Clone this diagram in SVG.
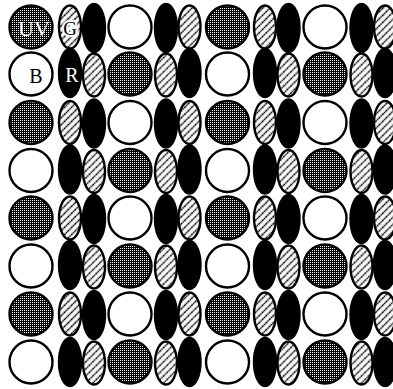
<svg xmlns="http://www.w3.org/2000/svg" width="393" height="389" viewBox="0 0 393 389">
<defs>
<pattern id="dots" x="0" y="0" width="2" height="2" patternUnits="userSpaceOnUse"><rect width="2" height="2" fill="#000"/><rect width="1" height="1" fill="#fff"/></pattern>
<pattern id="hatch" width="5" height="5" patternUnits="userSpaceOnUse" patternTransform="rotate(45)"><rect width="5" height="5" fill="#fff"/><line x1="1.5" y1="0" x2="1.5" y2="5" stroke="#000" stroke-width="1.5" stroke-dasharray="1.4 0.5"/></pattern>
<style>
.d{fill:url(#dots);stroke:#000;stroke-width:2.4}
.w{fill:#fff;stroke:#000;stroke-width:2.4}
.k{fill:#000;stroke:#000;stroke-width:2.4}
.h{fill:url(#hatch);stroke:#000;stroke-width:2.4}
text{font-family:"Liberation Serif","Times New Roman",serif;text-anchor:middle}
.lw{fill:#fff}
.lb{fill:#000}
.halo{stroke:#fff;stroke-width:4;paint-order:stroke;stroke-linejoin:round}
</style>
</defs>
<rect width="393" height="389" fill="#fff"/>
<g id="connectors"/>
<g id="row0">
<g id="r0-c0"><circle class="d" cx="31" cy="27" r="21.5"/><text class="lw" x="34" y="36" font-size="22">UV</text></g>
<g id="r0-e0a"><ellipse class="h" cx="70" cy="27" rx="11" ry="21.5"/><text class="lb halo" x="70" y="35" font-size="19">G</text></g>
<g id="r0-e0b"><ellipse class="k" cx="94" cy="28" rx="11" ry="24"/></g>
<g id="r0-c1"><circle class="w" cx="130" cy="27" r="21.5"/></g>
<g id="r0-e1a"><ellipse class="k" cx="166" cy="28" rx="11" ry="24"/></g>
<g id="r0-e1b"><ellipse class="h" cx="189.5" cy="27" rx="11" ry="21.5"/></g>
<g id="r0-c2"><circle class="d" cx="227.5" cy="27" r="21.5"/></g>
<g id="r0-e2a"><ellipse class="h" cx="265" cy="27" rx="11" ry="21.5"/></g>
<g id="r0-e2b"><ellipse class="k" cx="288.5" cy="28" rx="11" ry="24"/></g>
<g id="r0-c3"><circle class="w" cx="325" cy="27" r="21.5"/></g>
<g id="r0-e3a"><ellipse class="k" cx="361.5" cy="28" rx="11" ry="24"/></g>
<g id="r0-e3b"><ellipse class="h" cx="385" cy="27" rx="11" ry="21.5"/></g>
</g>
<g id="row1">
<g id="r1-c0"><circle class="w" cx="31" cy="74" r="21.5"/><text class="lb" x="36" y="83" font-size="20">B</text></g>
<g id="r1-e0a"><ellipse class="k" cx="70" cy="73" rx="11" ry="24"/><text class="lw" x="72" y="82" font-size="20">R</text></g>
<g id="r1-e0b"><ellipse class="h" cx="94" cy="75" rx="11" ry="21.5"/></g>
<g id="r1-c1"><circle class="d" cx="130" cy="74" r="21.5"/></g>
<g id="r1-e1a"><ellipse class="h" cx="166" cy="75" rx="11" ry="21.5"/></g>
<g id="r1-e1b"><ellipse class="k" cx="189.5" cy="73" rx="11" ry="24"/></g>
<g id="r1-c2"><circle class="w" cx="227.5" cy="74" r="21.5"/></g>
<g id="r1-e2a"><ellipse class="k" cx="265" cy="73" rx="11" ry="24"/></g>
<g id="r1-e2b"><ellipse class="h" cx="288.5" cy="75" rx="11" ry="21.5"/></g>
<g id="r1-c3"><circle class="d" cx="325" cy="74" r="21.5"/></g>
<g id="r1-e3a"><ellipse class="h" cx="361.5" cy="75" rx="11" ry="21.5"/></g>
<g id="r1-e3b"><ellipse class="k" cx="385" cy="73" rx="11" ry="24"/></g>
</g>
<g id="row2">
<g id="r2-c0"><circle class="d" cx="31" cy="122.5" r="21.5"/></g>
<g id="r2-e0a"><ellipse class="h" cx="70" cy="122.5" rx="11" ry="21.5"/></g>
<g id="r2-e0b"><ellipse class="k" cx="94" cy="123.5" rx="11" ry="24"/></g>
<g id="r2-c1"><circle class="w" cx="130" cy="122.5" r="21.5"/></g>
<g id="r2-e1a"><ellipse class="k" cx="166" cy="123.5" rx="11" ry="24"/></g>
<g id="r2-e1b"><ellipse class="h" cx="189.5" cy="122.5" rx="11" ry="21.5"/></g>
<g id="r2-c2"><circle class="d" cx="227.5" cy="122.5" r="21.5"/></g>
<g id="r2-e2a"><ellipse class="h" cx="265" cy="122.5" rx="11" ry="21.5"/></g>
<g id="r2-e2b"><ellipse class="k" cx="288.5" cy="123.5" rx="11" ry="24"/></g>
<g id="r2-c3"><circle class="w" cx="325" cy="122.5" r="21.5"/></g>
<g id="r2-e3a"><ellipse class="k" cx="361.5" cy="123.5" rx="11" ry="24"/></g>
<g id="r2-e3b"><ellipse class="h" cx="385" cy="122.5" rx="11" ry="21.5"/></g>
</g>
<g id="row3">
<g id="r3-c0"><circle class="w" cx="31" cy="170.5" r="21.5"/></g>
<g id="r3-e0a"><ellipse class="k" cx="70" cy="169.5" rx="11" ry="24"/></g>
<g id="r3-e0b"><ellipse class="h" cx="94" cy="171.5" rx="11" ry="21.5"/></g>
<g id="r3-c1"><circle class="d" cx="130" cy="170.5" r="21.5"/></g>
<g id="r3-e1a"><ellipse class="h" cx="166" cy="171.5" rx="11" ry="21.5"/></g>
<g id="r3-e1b"><ellipse class="k" cx="189.5" cy="169.5" rx="11" ry="24"/></g>
<g id="r3-c2"><circle class="w" cx="227.5" cy="170.5" r="21.5"/></g>
<g id="r3-e2a"><ellipse class="k" cx="265" cy="169.5" rx="11" ry="24"/></g>
<g id="r3-e2b"><ellipse class="h" cx="288.5" cy="171.5" rx="11" ry="21.5"/></g>
<g id="r3-c3"><circle class="d" cx="325" cy="170.5" r="21.5"/></g>
<g id="r3-e3a"><ellipse class="h" cx="361.5" cy="171.5" rx="11" ry="21.5"/></g>
<g id="r3-e3b"><ellipse class="k" cx="385" cy="169.5" rx="11" ry="24"/></g>
</g>
<g id="row4">
<g id="r4-c0"><circle class="d" cx="31" cy="218" r="21.5"/></g>
<g id="r4-e0a"><ellipse class="h" cx="70" cy="218" rx="11" ry="21.5"/></g>
<g id="r4-e0b"><ellipse class="k" cx="94" cy="219" rx="11" ry="24"/></g>
<g id="r4-c1"><circle class="w" cx="130" cy="218" r="21.5"/></g>
<g id="r4-e1a"><ellipse class="k" cx="166" cy="219" rx="11" ry="24"/></g>
<g id="r4-e1b"><ellipse class="h" cx="189.5" cy="218" rx="11" ry="21.5"/></g>
<g id="r4-c2"><circle class="d" cx="227.5" cy="218" r="21.5"/></g>
<g id="r4-e2a"><ellipse class="h" cx="265" cy="218" rx="11" ry="21.5"/></g>
<g id="r4-e2b"><ellipse class="k" cx="288.5" cy="219" rx="11" ry="24"/></g>
<g id="r4-c3"><circle class="w" cx="325" cy="218" r="21.5"/></g>
<g id="r4-e3a"><ellipse class="k" cx="361.5" cy="219" rx="11" ry="24"/></g>
<g id="r4-e3b"><ellipse class="h" cx="385" cy="218" rx="11" ry="21.5"/></g>
</g>
<g id="row5">
<g id="r5-c0"><circle class="w" cx="31" cy="266" r="21.5"/></g>
<g id="r5-e0a"><ellipse class="k" cx="70" cy="265" rx="11" ry="24"/></g>
<g id="r5-e0b"><ellipse class="h" cx="94" cy="267" rx="11" ry="21.5"/></g>
<g id="r5-c1"><circle class="d" cx="130" cy="266" r="21.5"/></g>
<g id="r5-e1a"><ellipse class="h" cx="166" cy="267" rx="11" ry="21.5"/></g>
<g id="r5-e1b"><ellipse class="k" cx="189.5" cy="265" rx="11" ry="24"/></g>
<g id="r5-c2"><circle class="w" cx="227.5" cy="266" r="21.5"/></g>
<g id="r5-e2a"><ellipse class="k" cx="265" cy="265" rx="11" ry="24"/></g>
<g id="r5-e2b"><ellipse class="h" cx="288.5" cy="267" rx="11" ry="21.5"/></g>
<g id="r5-c3"><circle class="d" cx="325" cy="266" r="21.5"/></g>
<g id="r5-e3a"><ellipse class="h" cx="361.5" cy="267" rx="11" ry="21.5"/></g>
<g id="r5-e3b"><ellipse class="k" cx="385" cy="265" rx="11" ry="24"/></g>
</g>
<g id="row6">
<g id="r6-c0"><circle class="d" cx="31" cy="314" r="21.5"/></g>
<g id="r6-e0a"><ellipse class="h" cx="70" cy="314" rx="11" ry="21.5"/></g>
<g id="r6-e0b"><ellipse class="k" cx="94" cy="315" rx="11" ry="24"/></g>
<g id="r6-c1"><circle class="w" cx="130" cy="314" r="21.5"/></g>
<g id="r6-e1a"><ellipse class="k" cx="166" cy="315" rx="11" ry="24"/></g>
<g id="r6-e1b"><ellipse class="h" cx="189.5" cy="314" rx="11" ry="21.5"/></g>
<g id="r6-c2"><circle class="d" cx="227.5" cy="314" r="21.5"/></g>
<g id="r6-e2a"><ellipse class="h" cx="265" cy="314" rx="11" ry="21.5"/></g>
<g id="r6-e2b"><ellipse class="k" cx="288.5" cy="315" rx="11" ry="24"/></g>
<g id="r6-c3"><circle class="w" cx="325" cy="314" r="21.5"/></g>
<g id="r6-e3a"><ellipse class="k" cx="361.5" cy="315" rx="11" ry="24"/></g>
<g id="r6-e3b"><ellipse class="h" cx="385" cy="314" rx="11" ry="21.5"/></g>
</g>
<g id="row7">
<g id="r7-c0"><circle class="w" cx="31" cy="362" r="21.5"/></g>
<g id="r7-e0a"><ellipse class="k" cx="70" cy="362" rx="11" ry="24"/></g>
<g id="r7-e0b"><ellipse class="h" cx="94" cy="363" rx="11" ry="21.5"/></g>
<g id="r7-c1"><circle class="d" cx="130" cy="362" r="21.5"/></g>
<g id="r7-e1a"><ellipse class="h" cx="166" cy="363" rx="11" ry="21.5"/></g>
<g id="r7-e1b"><ellipse class="k" cx="189.5" cy="362" rx="11" ry="24"/></g>
<g id="r7-c2"><circle class="w" cx="227.5" cy="362" r="21.5"/></g>
<g id="r7-e2a"><ellipse class="k" cx="265" cy="362" rx="11" ry="24"/></g>
<g id="r7-e2b"><ellipse class="h" cx="288.5" cy="363" rx="11" ry="21.5"/></g>
<g id="r7-c3"><circle class="d" cx="325" cy="362" r="21.5"/></g>
<g id="r7-e3a"><ellipse class="h" cx="361.5" cy="363" rx="11" ry="21.5"/></g>
<g id="r7-e3b"><ellipse class="k" cx="385" cy="362" rx="11" ry="24"/></g>
</g>
</svg>
